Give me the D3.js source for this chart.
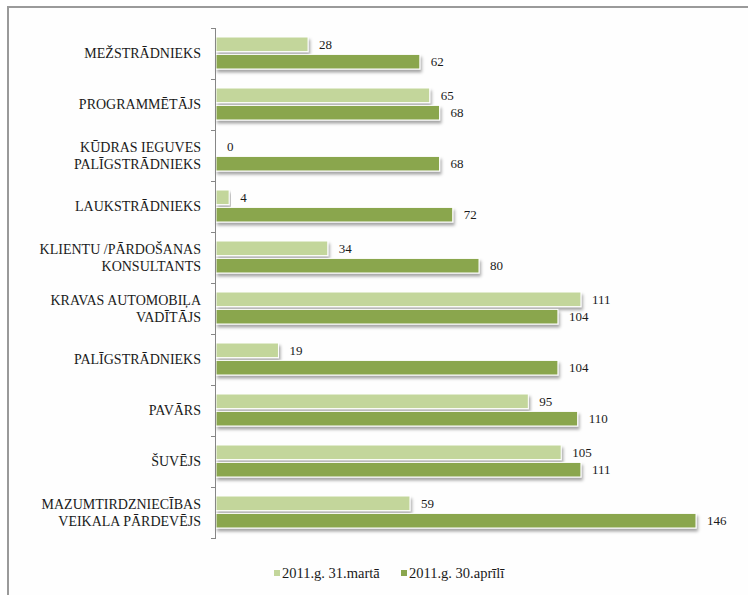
<!DOCTYPE html>
<html>
<head>
<meta charset="utf-8">
<script src="https://cdn.jsdelivr.net/npm/d3@7"></script>
<style>
  body { margin: 0; background: #fff; }
</style>
</head>
<body>
<div id="chart"></div>
<script>
// Categories (top to bottom), lines split for wrapped labels
var categories = [
    ['MEŽSTRĀDNIEKS'],
    ['PROGRAMMĒTĀJS'],
    ['KŪDRAS IEGUVES', 'PALĪGSTRĀDNIEKS'],
    ['LAUKSTRĀDNIEKS'],
    ['KLIENTU /PĀRDOŠANAS', 'KONSULTANTS'],
    ['KRAVAS AUTOMOBIĻA', 'VADĪTĀJS'],
    ['PALĪGSTRĀDNIEKS'],
    ['PAVĀRS'],
    ['ŠUVĒJS'],
    ['MAZUMTIRDZNIECĪBAS', 'VEIKALA PĀRDEVĒJS']
];
var seriesNames = ['2011.g. 31.martā', '2011.g. 30.aprīlī'];
var march = [28, 65, 0, 4, 34, 111, 19, 95, 105, 59];
var april = [62, 68, 68, 72, 80, 104, 104, 110, 111, 146];
var colors = ['#c3d69b', '#8aa64e'];

var width = 748,
    height = 595;

var svg = d3.select('#chart')
    .append('svg')
    .attr('width', width)
    .attr('height', height)
    .attr('font-family', "'Liberation Serif', 'DejaVu Serif', serif")
    .attr('fill', '#1a1a1a');

// Drop shadow for bars
var defs = svg.append('defs');
defs.append('filter')
    .attr('id', 'shadow')
    .attr('x', '-5%').attr('y', '-30%')
    .attr('width', '115%').attr('height', '180%')
    .append('feDropShadow')
    .attr('dx', 1.5)
    .attr('dy', 3)
    .attr('stdDeviation', 1.4)
    .attr('flood-color', '#000')
    .attr('flood-opacity', 0.35);

// Frame
svg.append('rect')
    .attr('x', 8).attr('y', 7)
    .attr('width', 800).attr('height', 700)
    .attr('fill', '#fefefe')
    .attr('stroke', '#9a9a9a')
    .attr('stroke-width', 2);

var idx = d3.range(categories.length);

var y = d3.scaleBand()
    .domain(idx)
    .range([28, 538]);

var ySub = d3.scaleBand()
    .domain([0, 1])
    .range([9, y.bandwidth() - 10])
    .paddingInner(0.16);

var x = d3.scaleLinear()
    .domain([0, 146])
    .range([216, 696]);

var data = idx.map(function(i) {
    return [march[i], april[i]].map(function(v, s) { return { i: i, s: s, v: v }; });
});

// Bars
var groups = svg.append('g')
    .selectAll('g')
    .data(data)
    .enter()
    .append('g')
    .attr('transform', function(d, i) { return 'translate(0,' + y(i) + ')'; });

groups.selectAll('rect')
    .data(function(d) { return d.filter(function(b) { return b.v > 0; }); })
    .enter()
    .append('rect')
    .attr('x', x(0))
    .attr('y', function(d) { return ySub(d.s); })
    .attr('width', function(d) { return x(d.v) - x(0); })
    .attr('height', ySub.bandwidth())
    .attr('fill', function(d) { return colors[d.s]; })
    .attr('stroke', '#fff')
    .attr('stroke-width', 1)
    .attr('filter', 'url(#shadow)');

// Value labels
groups.selectAll('text')
    .data(function(d) { return d; })
    .enter()
    .append('text')
    .attr('x', function(d) { return x(d.v) + 11; })
    .attr('y', function(d) { return ySub(d.s) + ySub.bandwidth() / 2; })
    .attr('dy', '0.35em')
    .attr('font-size', 13)
    .attr('fill', '#1a1a1a')
    .text(function(d) { return d.v; });

// Axis line and ticks at category boundaries
var axis = svg.append('g');
axis.append('line')
    .attr('x1', x(0) - 0.5).attr('x2', x(0) - 0.5)
    .attr('y1', y.range()[0]).attr('y2', y.range()[1])
    .attr('stroke', '#868686');
axis.selectAll('line.tick')
    .data(idx.concat([categories.length]))
    .enter()
    .append('line')
    .classed('tick', true)
    .attr('x1', x(0) - 5).attr('x2', x(0))
    .attr('y1', function(i) { return Math.round(y.range()[0] + i * y.step()) + 0.5; })
    .attr('y2', function(i) { return Math.round(y.range()[0] + i * y.step()) + 0.5; })
    .attr('stroke', '#868686');

// Category labels
var labels = svg.append('g')
    .selectAll('text')
    .data(categories)
    .enter()
    .append('text')
    .attr('text-anchor', 'end')
    .attr('font-size', 14)
    .attr('fill', '#1a1a1a')
    .attr('transform', function(d, i) { return 'translate(201,' + (y(i) + y.bandwidth() / 2) + ')'; });

labels.selectAll('tspan')
    .data(function(d) { return d; })
    .enter()
    .append('tspan')
    .attr('x', 0)
    .attr('y', function(t, j, nodes) {
        var n = nodes.length;
        return (j - (n - 1) / 2) * 16.5;
    })
    .attr('dy', '0.35em')
    .text(function(t) { return t; });

// Legend
var legend = svg.append('g')
    .attr('transform', 'translate(274,573)');
var legendX = [0, 127];
var items = legend.selectAll('g')
    .data(seriesNames)
    .enter()
    .append('g')
    .attr('transform', function(d, i) { return 'translate(' + legendX[i] + ',0)'; });
items.append('rect')
    .attr('x', 0).attr('y', -3)
    .attr('width', 6).attr('height', 6)
    .attr('fill', function(d, i) { return colors[i]; });
items.append('text')
    .attr('x', 8)
    .attr('dy', '0.35em')
    .attr('font-size', 14.5)
    .attr('fill', '#1a1a1a')
    .text(function(d) { return d; });
</script>
</body>
</html>
